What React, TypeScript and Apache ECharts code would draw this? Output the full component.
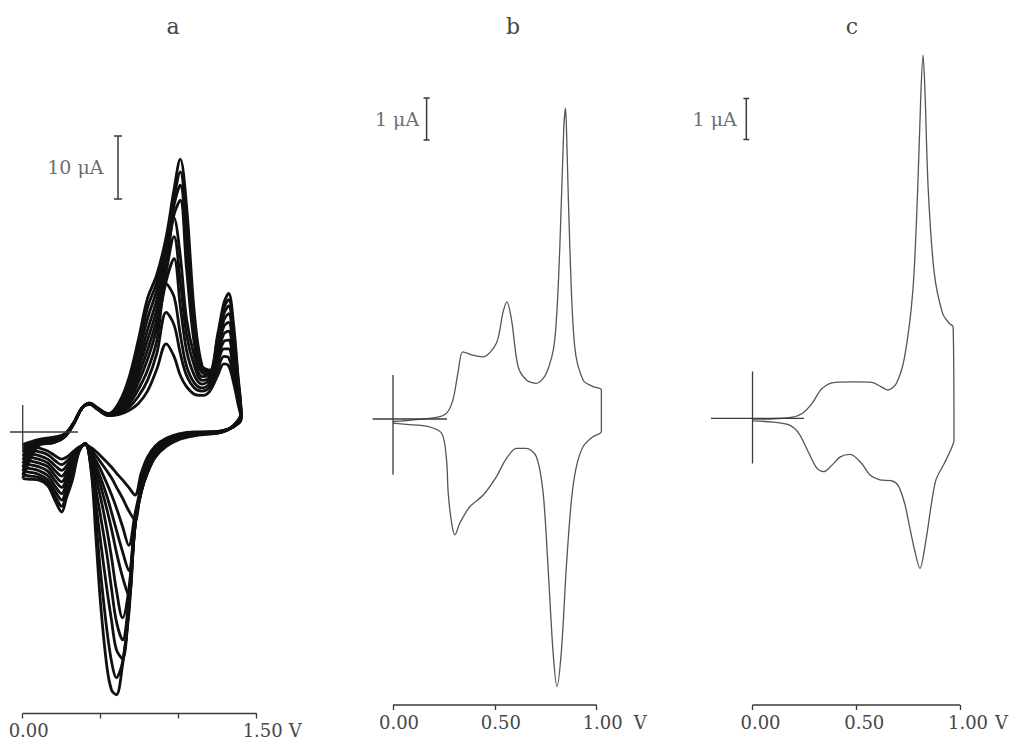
import { useEffect, useRef } from "react";
import * as echarts from "echarts";

// ---------- Panel a: repeated cycles (potential grids, V; currents, µA) ----------
const A_E_ANODIC = [0, 0.1, 0.2, 0.27, 0.33, 0.38, 0.43, 0.48, 0.55, 0.62, 0.68, 0.74, 0.8, 0.86, 0.92, 0.97, 1.01, 1.05, 1.1, 1.15, 1.2, 1.25, 1.29, 1.32, 1.35, 1.38, 1.4];
const A_E_CATHODIC = [1.4, 1.35, 1.28, 1.2, 1.1, 1.0, 0.92, 0.85, 0.8, 0.76, 0.72, 0.68, 0.64, 0.6, 0.57, 0.54, 0.5, 0.47, 0.44, 0.4, 0.36, 0.32, 0.28, 0.25, 0.21, 0.16, 0.1, 0.05, 0];

const A_I_ANODIC = [
  [-2, -1.2, -0.8, -0.3, 1.6, 3.8, 4.4, 3.6, 2.6, 2.8, 3.4, 4.5, 6.5, 10, 14, 12, 9, 7.2, 6, 5.8, 6.5, 9, 10.8, 10.5, 8, 4.5, 2],
  [-2.6, -1.4, -0.9, -0.4, 1.6, 3.8, 4.4, 3.6, 2.6, 3.0, 3.9, 5.6, 8.2, 12.5, 19, 17, 12.5, 9, 7, 6.5, 7.2, 10, 12, 11.8, 9, 5, 2.2],
  [-3.2, -1.5, -1.0, -0.4, 1.6, 3.8, 4.5, 3.7, 2.7, 3.2, 4.4, 6.7, 9.8, 14.5, 23.5, 21.5, 15.5, 10.5, 7.8, 7.0, 7.8, 11, 13.2, 13.2, 10, 5.5, 2.3],
  [-3.8, -1.6, -1.1, -0.5, 1.5, 3.8, 4.5, 3.7, 2.7, 3.4, 4.9, 7.8, 11.5, 16.5, 24, 27.5, 20, 13, 9, 7.6, 8.3, 11.8, 14.4, 14.6, 11, 6, 2.4],
  [-4.4, -1.7, -1.2, -0.5, 1.5, 3.8, 4.5, 3.7, 2.7, 3.6, 5.4, 8.8, 13, 18, 25.5, 31, 24, 15.5, 10.5, 8.2, 8.7, 12.5, 15.6, 16, 12, 6.5, 2.5],
  [-5.0, -1.8, -1.3, -0.6, 1.5, 3.8, 4.5, 3.7, 2.8, 3.8, 5.9, 9.8, 14.6, 19.5, 26.5, 34, 28, 18, 12, 8.8, 9.0, 13.2, 16.8, 17.4, 13, 7, 2.6],
  [-5.6, -1.9, -1.4, -0.6, 1.5, 3.8, 4.5, 3.7, 2.8, 4.0, 6.5, 10.8, 16.2, 21, 27.5, 34.5, 36.8, 26, 14, 9.4, 9.2, 13.8, 17.8, 18.8, 14.2, 7.5, 2.7],
  [-6.2, -2.0, -1.5, -0.7, 1.5, 3.8, 4.6, 3.8, 2.8, 4.3, 7.2, 12, 18, 22.5, 28.5, 36, 39.2, 30, 16, 9.8, 9.4, 14.4, 18.8, 20, 15.5, 8, 2.8],
  [-6.8, -2.1, -1.6, -0.7, 1.4, 3.8, 4.6, 3.8, 2.9, 4.5, 7.8, 13.2, 19.7, 23.8, 29.8, 37.2, 41.3, 33, 17.5, 10.2, 9.6, 15, 19.7, 21, 16.5, 8.5, 2.9],
  [-7.4, -2.2, -1.7, -0.8, 1.4, 3.8, 4.6, 3.8, 2.9, 4.8, 8.5, 14.5, 21.2, 25, 31, 38.5, 43.3, 36, 19, 10.5, 9.8, 15.5, 20.5, 22, 17.5, 9, 3],
];

const A_I_CATHODIC = [
  [2, 0.8, 0.2, 0, 0, -0.3, -1.0, -2.2, -4, -6.5, -10, -8.8, -7.6, -6.5, -5.6, -4.8, -3.8, -3.1, -2.5, -2.0, -2.4, -3.2, -4, -4.3, -3.8, -3, -2.5, -2.2, -2],
  [2.2, 0.8, 0.2, 0, -0.1, -0.4, -1.2, -2.5, -4.5, -8, -14, -12.5, -10.5, -8.7, -7.3, -6.2, -4.8, -3.8, -2.9, -2.0, -2.5, -3.6, -4.7, -5.2, -4.6, -3.6, -3.1, -2.8, -2.6],
  [2.3, 0.8, 0.2, 0, -0.1, -0.5, -1.3, -2.7, -5, -8.5, -13, -18, -15, -12, -10, -8.2, -6, -4.6, -3.3, -2.0, -2.6, -4.0, -5.4, -6.1, -5.4, -4.3, -3.7, -3.4, -3.2],
  [2.4, 0.9, 0.1, -0.1, -0.2, -0.6, -1.5, -3, -5.4, -8.8, -14, -22, -19, -15.5, -12.8, -10.2, -7.3, -5.4, -3.6, -1.9, -2.7, -4.4, -6.1, -7.0, -6.2, -4.9, -4.3, -4.0, -3.8],
  [2.5, 0.9, 0.1, -0.1, -0.3, -0.7, -1.6, -3.2, -5.8, -9, -14.5, -26, -23, -19, -15.5, -12.3, -8.6, -6.2, -3.9, -1.9, -2.8, -4.8, -6.8, -7.9, -7.0, -5.5, -4.9, -4.6, -4.4],
  [2.6, 0.9, 0.1, -0.2, -0.3, -0.8, -1.8, -3.4, -6, -9.2, -14.6, -25, -29.5, -25, -20, -15.5, -10.5, -7.4, -4.3, -1.9, -2.8, -5.3, -7.5, -8.8, -7.8, -6.2, -5.5, -5.2, -5.0],
  [2.7, 0.9, 0, -0.2, -0.4, -0.9, -1.9, -3.6, -6.2, -9.3, -14.8, -26.5, -33, -30, -25, -19.5, -13.5, -9.2, -4.9, -1.9, -2.9, -5.8, -8.2, -9.8, -8.7, -6.9, -6.1, -5.8, -5.6],
  [2.8, 1, 0, -0.2, -0.5, -1.0, -2.0, -3.7, -6.3, -9.4, -14.9, -27.5, -36, -34.5, -30, -25, -17.5, -11.5, -5.5, -1.8, -3.0, -6.4, -9.0, -10.8, -9.5, -7.6, -6.7, -6.4, -6.2],
  [2.9, 1, 0, -0.3, -0.5, -1.1, -2.2, -3.9, -6.4, -9.5, -15, -28.3, -36.5, -39, -36.5, -31.5, -22.5, -14.2, -6, -1.8, -3.1, -6.9, -9.7, -11.8, -10.3, -8.1, -7.2, -7.0, -6.8],
  [3, 1, 0, -0.3, -0.6, -1.2, -2.3, -4, -6.5, -9.5, -15, -29, -37, -41.7, -41, -37.3, -27.5, -17, -6.5, -1.8, -3.2, -7.5, -10.5, -12.7, -11, -8.5, -7.6, -7.5, -7.4],
];

// ---------- Panel b ----------
const B_E_ANODIC = [0, 0.214, 0.263, 0.294, 0.319, 0.343, 0.392, 0.441, 0.508, 0.539, 0.559, 0.582, 0.614, 0.655, 0.704, 0.753, 0.794, 0.819, 0.838, 0.847, 0.854, 0.868, 0.892, 0.933, 0.982, 1.023];
const B_I_ANODIC = [-0.06, 0.04, 0.14, 0.45, 1.1, 1.6, 1.52, 1.48, 1.81, 2.52, 2.79, 2.36, 1.25, 0.93, 0.85, 1.09, 1.88, 4.1, 6.88, 7.4, 6.48, 4.1, 1.72, 0.93, 0.77, 0.69];
const B_E_CATHODIC = [1.023, 0.982, 0.933, 0.9, 0.876, 0.851, 0.827, 0.805, 0.786, 0.761, 0.737, 0.704, 0.655, 0.606, 0.557, 0.508, 0.443, 0.377, 0.328, 0.304, 0.288, 0.271, 0.263, 0.239, 0.165, 0.067, 0];
const B_I_CATHODIC = [-0.3, -0.42, -0.66, -1.14, -1.93, -3.52, -5.5, -6.37, -5.57, -3.52, -1.76, -0.9, -0.7, -0.7, -0.94, -1.37, -1.81, -2.09, -2.48, -2.76, -2.48, -1.76, -0.98, -0.34, -0.17, -0.13, -0.1];

// ---------- Panel c ----------
const C_E_ANODIC = [0, 0.176, 0.24, 0.288, 0.335, 0.399, 0.495, 0.574, 0.621, 0.653, 0.693, 0.733, 0.773, 0.796, 0.812, 0.822, 0.831, 0.847, 0.876, 0.916, 0.948, 0.967];
const C_I_ANODIC = [-0.02, 0.015, 0.12, 0.37, 0.73, 0.88, 0.89, 0.88, 0.77, 0.69, 0.85, 1.5, 3.13, 5.57, 8.0, 8.86, 8.0, 5.57, 3.54, 2.56, 2.32, 2.23];
const C_E_CATHODIC = [0.971, 0.955, 0.924, 0.884, 0.86, 0.836, 0.807, 0.781, 0.757, 0.733, 0.701, 0.669, 0.614, 0.566, 0.526, 0.471, 0.423, 0.383, 0.343, 0.311, 0.272, 0.224, 0.176, 0.097, 0];
const C_I_CATHODIC = [-0.53, -0.77, -1.1, -1.5, -2.16, -2.97, -3.66, -3.21, -2.64, -2.07, -1.63, -1.52, -1.5, -1.38, -1.1, -0.88, -0.94, -1.14, -1.3, -1.22, -0.85, -0.37, -0.16, -0.09, -0.06];

// ---------- Axes ----------
const PANEL_TITLES = ["a", "b", "c"];
const X_RANGE = [
  [-0.1, 1.5],
  [-0.12, 1.04],
  [-0.22, 1.0],
];
const X_TICKS = [
  [0, 0.5, 1.0, 1.5],
  [0, 0.5, 1.0],
  [0, 0.5, 1.0],
];
const X_TICK_LABELS = [
  [0, 1.5],
  [0, 0.5, 1.0],
  [0, 0.5, 1.0],
];
const Y_RANGE = [
  [-44.68, 48],
  [-6.81, 8],
  [-6.99, 9.5],
];
// scale bars: [potential, bottom current, top current, label]
const SCALE_BARS: [number, number, number, string][] = [
  [0.611, 37, 47, "10 μA"],
  [0.165, 6.64, 7.64, "1 μA"],
  [-0.03, 6.8, 7.8, "1 μA"],
];
// zero-current crosshairs: [E left, E right, I top, I bottom]
const CROSSHAIRS = [
  [-0.081, 0.354, 4.3, -3.2],
  [-0.1, 0.265, 1.05, -1.33],
  [-0.2, 0.248, 1.14, -1.1],
];

const FONT = '"DejaVu Serif", "Liberation Serif", serif';
const TEXT_COLOR = "#474747";
const AXIS_COLOR = "#3a3a3a";

function pairs(es: number[], is: number[]) {
  return es.map((e, i) => [e, is[i]]);
}

export default function App() {
  const ref = useRef<HTMLDivElement>(null);

  useEffect(() => {
    const chart = echarts.init(ref.current!, null, { renderer: "svg" });

    // px per volt chosen so that the tick positions land where they are in the figure
    const pxPerV = [156, 203.7, 209.7];
    const zeroX = [22.7, 393, 753];
    const tops = [129.6, 83, 28.8];
    const bottoms = [713.5, 705, 705];
    const grids = [0, 1, 2].map((i) => ({
      left: zeroX[i] + X_RANGE[i][0] * pxPerV[i],
      top: tops[i],
      width: (X_RANGE[i][1] - X_RANGE[i][0]) * pxPerV[i],
      height: bottoms[i] - tops[i],
    }));
    const labelPad = [12, 12, 16];
    const nameGaps = [31, 29, 35];
    const capHalf = [0.026, 0.015, 0.014];
    const labelDist = [14, 7, 9];
    const titleX = [173, 513, 852];

    const xAxis = grids.map((_, i) => ({
      type: "value",
      gridIndex: i,
      min: X_RANGE[i][0],
      max: X_RANGE[i][1],
      axisLine: { show: false, onZero: false },
      axisTick: {
        show: true,
        inside: false,
        length: 5,
        customValues: X_TICKS[i],
        lineStyle: { color: AXIS_COLOR, width: 1.3 },
      },
      axisLabel: {
        show: true,
        margin: 8,
        customValues: X_TICK_LABELS[i],
        formatter: (v: number) => v.toFixed(2),
        fontFamily: FONT,
        fontSize: 18,
        color: TEXT_COLOR,
        padding: [0, 0, 0, labelPad[i]],
      },
      splitLine: { show: false },
      name: "V",
      nameLocation: "end",
      nameGap: nameGaps[i],
      nameTextStyle: {
        fontFamily: FONT,
        fontSize: 18,
        color: TEXT_COLOR,
        verticalAlign: "top",
        align: "left",
        padding: [8, 0, 0, 0],
      },
    }));

    const yAxis = grids.map((_, i) => ({
      type: "value",
      gridIndex: i,
      min: Y_RANGE[i][0],
      max: Y_RANGE[i][1],
      show: false,
    }));

    const series: any[] = [];

    // panel a cycles
    A_I_ANODIC.forEach((an, k) => {
      const ca = A_I_CATHODIC[k];
      const data = pairs(A_E_ANODIC, an).concat(pairs(A_E_CATHODIC.slice(1), ca.slice(1)));
      series.push({
        type: "line",
        xAxisIndex: 0,
        yAxisIndex: 0,
        data,
        symbol: "none",
        showSymbol: false,
        smooth: 0.35,
        clip: false,
        silent: true,
        lineStyle: { color: "#101010", width: 2.8 },
      });
    });

    // panel b, c
    const single = [
      [B_E_ANODIC, B_I_ANODIC, B_E_CATHODIC, B_I_CATHODIC],
      [C_E_ANODIC, C_I_ANODIC, C_E_CATHODIC, C_I_CATHODIC],
    ];
    single.forEach(([ea, ia, ec, ic], j) => {
      series.push({
        type: "line",
        xAxisIndex: j + 1,
        yAxisIndex: j + 1,
        data: pairs(ea, ia).concat(pairs(ec, ic)),
        symbol: "none",
        showSymbol: false,
        smooth: 0.3,
        clip: false,
        silent: true,
        lineStyle: { color: "#555", width: 1.3 },
      });
    });

    for (let i = 0; i < 3; i++) {
      // the potential axis line, from the first to the last tick
      const ticks = X_TICKS[i];
      series.push({
        type: "line",
        xAxisIndex: i,
        yAxisIndex: i,
        data: [[ticks[0], Y_RANGE[i][0]], [ticks[ticks.length - 1], Y_RANGE[i][0]]],
        symbol: "none",
        showSymbol: false,
        clip: false,
        silent: true,
        lineStyle: { color: AXIS_COLOR, width: 1.5 },
      });
      // zero-current crosshair
      const [l, r, t, b] = CROSSHAIRS[i];
      series.push({
        type: "line",
        xAxisIndex: i,
        yAxisIndex: i,
        data: [[l, 0], [r, 0], [0, 0], [0, t], [0, b]],
        symbol: "none",
        showSymbol: false,
        clip: false,
        silent: true,
        lineStyle: { color: AXIS_COLOR, width: 1.3 },
      });
      // current scale bar
      const [e, lo, hi, txt] = SCALE_BARS[i];
      const d = capHalf[i];
      series.push({
        type: "line",
        xAxisIndex: i,
        yAxisIndex: i,
        data: [[e - d, hi], [e + d, hi], [e, hi], [e, lo], [e - d, lo], [e + d, lo]],
        symbol: "none",
        showSymbol: false,
        clip: false,
        silent: true,
        lineStyle: { color: AXIS_COLOR, width: 1.5 },
      });
      series.push({
        type: "scatter",
        xAxisIndex: i,
        yAxisIndex: i,
        data: [[e, (lo + hi) / 2]],
        symbolSize: 1,
        itemStyle: { color: "rgba(0,0,0,0)" },
        clip: false,
        silent: true,
        label: {
          show: true,
          position: "left",
          distance: labelDist[i],
          formatter: txt,
          fontFamily: FONT,
          fontSize: 19,
          color: TEXT_COLOR,
        },
      });
    }

    const graphic = PANEL_TITLES.map((t, i) => ({
      type: "text",
      x: titleX[i],
      y: 26,
      style: {
        text: t,
        fontFamily: FONT,
        fontSize: 22,
        fill: TEXT_COLOR,
        align: "center",
        verticalAlign: "middle",
        textAlign: "center",
        textVerticalAlign: "middle",
      },
    }));

    chart.setOption({
      animation: false,
      backgroundColor: "#ffffff",
      grid: grids,
      xAxis,
      yAxis,
      series,
      graphic,
    });

    return () => chart.dispose();
  }, []);

  return (
    <div
      ref={ref}
      style={{ position: "fixed", left: 0, top: 0, width: 1011, height: 741, background: "#fff" }}
    />
  );
}
